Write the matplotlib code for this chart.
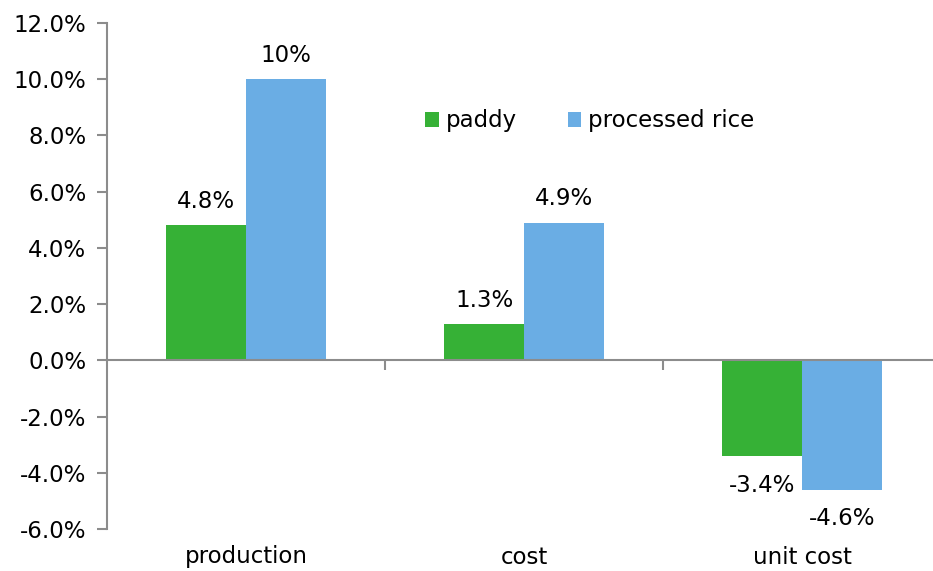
import matplotlib
matplotlib.use("Agg")
from matplotlib import pyplot as plt
from matplotlib.ticker import FuncFormatter
from matplotlib.transforms import blended_transform_factory
import numpy as np

# Données du graphique
categories = ["production", "cost", "unit cost"]
series = ["paddy", "processed rice"]
paddy = [4.8, 1.3, -3.4]
processed_rice = [10.0, 4.9, -4.6]
paddy_labels = ["4.8%", "1.3%", "-3.4%"]
rice_labels = ["10%", "4.9%", "-4.6%"]
yticks = [-6, -4, -2, 0, 2, 4, 6, 8, 10, 12]

green = "#36b136"
blue = "#6aade4"
grey = "#8c8c8c"

plt.rcParams["font.family"] = "DejaVu Sans"
plt.rcParams["font.size"] = 16.5

fig = plt.figure(figsize=(9.33, 5.71), dpi=100)
ax = fig.add_axes([107 / 933, 42 / 571, 834 / 933, 506 / 571])

x = np.arange(len(categories))
w = 0.287
b1 = ax.bar(x - w / 2, paddy, w, color=green, label=series[0])
b2 = ax.bar(x + w / 2, processed_rice, w, color=blue, label=series[1])

# Étiquettes de valeurs au-dessus / en dessous des barres
for bars, labels in ((b1, paddy_labels), (b2, rice_labels)):
    for bar, lab in zip(bars, labels):
        v = bar.get_height()
        cx = bar.get_x() + bar.get_width() / 2
        if v >= 0:
            ax.annotate(lab, (cx, v), xytext=(0, 17), textcoords="offset points",
                        ha="center", va="center")
        else:
            ax.annotate(lab, (cx, v), xytext=(0, -21), textcoords="offset points",
                        ha="center", va="center")

ax.set_xlim(-0.5, 2.5)
ax.set_ylim(-6, 12)
ax.set_yticks(yticks)
ax.yaxis.set_major_formatter(FuncFormatter(lambda v, p: f"{v:.1f}%"))

# Axes et graduations
for s in ("top", "right"):
    ax.spines[s].set_visible(False)
ax.spines["left"].set_color(grey)
ax.spines["left"].set_linewidth(1.5)
ax.spines["bottom"].set_position(("data", 0))
ax.spines["bottom"].set_color(grey)
ax.spines["bottom"].set_linewidth(1.5)
ax.tick_params(axis="y", direction="out", length=7, width=1.5, color=grey, pad=8)
ax.set_xticks([0.5, 1.5])
ax.set_xticklabels([])
ax.tick_params(axis="x", direction="out", length=7, width=1.5, color=grey)

# Noms des catégories en bas du graphique
trans = blended_transform_factory(ax.transData, ax.transAxes)
for xi, cat in zip(x, categories):
    ax.text(xi, -28 / 506, cat, transform=trans, ha="center", va="center")

ax.legend(loc="center", bbox_to_anchor=(590 / 933, (571 - 121) / 571),
          bbox_transform=fig.transFigure, ncol=2, frameon=False,
          handlelength=0.6, handleheight=0.6, handletextpad=0.3, columnspacing=2.2)

fig.savefig("out.png", dpi=100)
